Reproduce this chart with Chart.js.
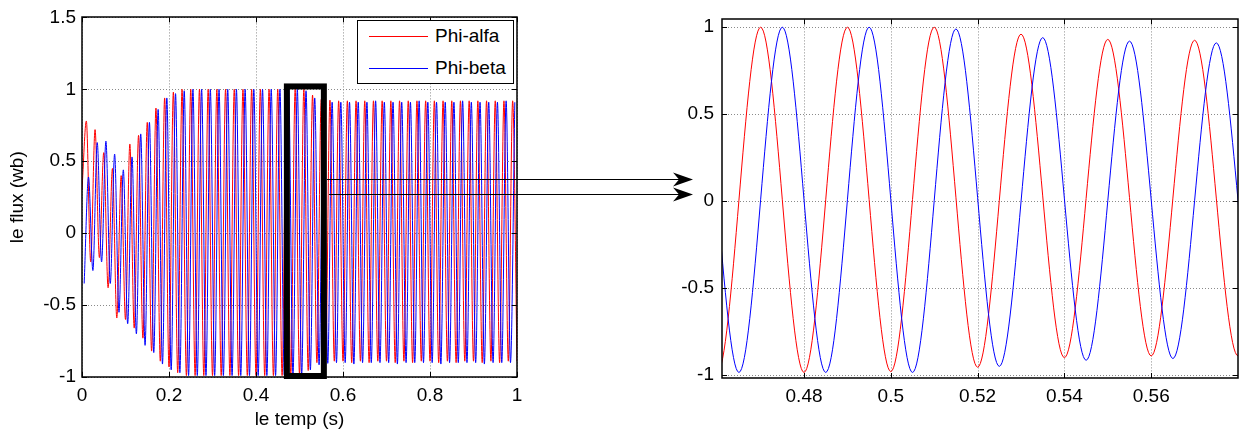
<!DOCTYPE html>
<html>
<head>
<meta charset="utf-8">
<script src="https://cdn.jsdelivr.net/npm/chart.js@4.4.0/dist/chart.umd.min.js"></script>
<style>
html, body { margin: 0; padding: 0; background: #fff; }
#wrap { position: relative; width: 1248px; height: 434px; overflow: hidden; }
#leftChart { position: absolute; left: 0; top: 0; }
#rightChart { position: absolute; left: 660px; top: 0; }
#legend { position: absolute; left: 357px; top: 20px; width: 155px; height: 62px; border: 1px solid #000; background: #fff; font: 19px 'Liberation Sans', Arial, sans-serif; color: #000; }
.legend-row { position: absolute; left: 0; height: 22px; line-height: 22px; }
.legend-row .swatch { position: absolute; left: 11px; top: 11px; width: 59px; height: 1px; }
.legend-row .txt { position: absolute; left: 77px; top: 0; white-space: nowrap; }
</style>
</head>
<body>
<div id="wrap">
    <canvas id="leftChart" width="700" height="434"></canvas>
    <canvas id="rightChart" width="588" height="434"></canvas>
    <div id="legend"></div>
</div>
<script>
// flux extrema, one every half period (10 ms)
var STEP = 0.01;
var redStart = 0;
var blueStart = 0.005;

var redValues = [
    0.30, 0.78, -0.20, 0.72, -0.17, 0.56, -0.38, 0.45, -0.59, 0.40,
    -0.60, 0.62, -0.66, 0.68, -0.73, 0.77, -0.82, 0.87, -0.89, 0.94,
    -0.93, 0.98, -0.97, 1.00, -0.99, 1.00, -0.99, 1.00, -0.99, 1.00,
    -0.99, 1.00, -0.99, 1.00, -0.99, 1.00, -0.99, 1.00, -0.99, 1.00,
    -0.99, 1.00, -0.99, 1.00, -0.99, 1.00, -0.99, 1.00, -0.985, 1.00,
    -0.98, 1.00, -0.955, 0.96, -0.90, 0.93, -0.89, 0.925, -0.89, 0.92,
    -0.89, 0.92, -0.90, 0.92, -0.89, 0.92, -0.90, 0.92, -0.89, 0.92,
    -0.89, 0.92, -0.90, 0.92, -0.89, 0.92, -0.90, 0.92, -0.89, 0.92,
    -0.89, 0.92, -0.90, 0.92, -0.89, 0.92, -0.90, 0.92, -0.89, 0.92,
    -0.89, 0.92, -0.90, 0.92, -0.89, 0.92, -0.90, 0.92, -0.89, 0.92,
    -0.89
];

var blueValues = [
    -0.35, 0.39, -0.26, 0.63, -0.20, 0.64, -0.35, 0.55, -0.55, 0.44,
    -0.63, 0.53, -0.70, 0.69, -0.78, 0.77, -0.83, 0.86, -0.91, 0.94,
    -0.95, 0.97, -0.97, 0.99, -0.99, 1.00, -0.99, 1.00, -0.99, 1.00,
    -0.99, 1.00, -0.99, 1.00, -0.99, 1.00, -0.99, 1.00, -0.99, 1.00,
    -0.99, 1.00, -0.99, 1.00, -0.99, 1.00, -0.985, 1.00, -0.985, 1.00,
    -0.985, 0.99, -0.95, 0.94, -0.915, 0.92, -0.905, 0.91, -0.90, 0.91,
    -0.90, 0.91, -0.91, 0.91, -0.90, 0.91, -0.90, 0.92, -0.90, 0.91,
    -0.90, 0.91, -0.91, 0.91, -0.90, 0.91, -0.90, 0.92, -0.90, 0.91,
    -0.90, 0.91, -0.91, 0.91, -0.90, 0.91, -0.90, 0.92, -0.90, 0.91,
    -0.90, 0.91, -0.91, 0.91, -0.90, 0.91, -0.90, 0.92, -0.90, 0.91
];

var seriesNames = ['Phi-alfa', 'Phi-beta'];
var seriesColors = ['#ff0000', '#0000ff'];

var leftXTicks = [0, 0.2, 0.4, 0.6, 0.8, 1];
var leftYTicks = [-1, -0.5, 0, 0.5, 1, 1.5];
var rightXTicks = [0.48, 0.5, 0.52, 0.54, 0.56];
var rightYTicks = [-1, -0.5, 0, 0.5, 1];

var zoomRange = [0.4611, 0.5800];
var zoomYRange = [-1.017, 1.045];
var zoomBox = { x0: 0.471, x1: 0.556, y0: -0.993, y1: 1.02 };
var arrowLevels = [0.38, 0.27];

var FONT = { family: "'Liberation Sans', Arial, sans-serif", size: 19 };
var GRID = { color: '#8a8a8a', lineWidth: 1, drawTicks: false };

function toPoints(start, values) {
    return values.map(function (v, i) {
        return { x: +(start + i * STEP).toFixed(3), y: v };
    });
}

function fixedTicks(list) {
    return function (scale) {
        scale.ticks = list.map(function (v) { return { value: v }; });
    };
}

function makeDatasets() {
    return [
        { label: seriesNames[0], data: toPoints(redStart, redValues), borderColor: seriesColors[0], order: 1 },
        { label: seriesNames[1], data: toPoints(blueStart, blueValues), borderColor: seriesColors[1], order: 0 }
    ].map(function (ds) {
        ds.borderWidth = 1;
        ds.pointRadius = 0;
        ds.fill = false;
        ds.cubicInterpolationMode = 'monotone';
        return ds;
    });
}

// matlab style box with inward ticks
var framePlugin = {
    id: 'frame',
    beforeDatasetsDraw: function (chart) {
        // dotted grid
        var ctx = chart.ctx, a = chart.chartArea;
        var xs = chart.scales.x, ys = chart.scales.y;
        ctx.save();
        ctx.strokeStyle = GRID.color;
        ctx.lineWidth = 1;
        ctx.setLineDash([1, 2]);
        xs.ticks.forEach(function (t) {
            var px = Math.round(xs.getPixelForValue(t.value)) + 0.5;
            ctx.beginPath(); ctx.moveTo(px, a.top); ctx.lineTo(px, a.bottom); ctx.stroke();
        });
        ys.ticks.forEach(function (t) {
            var py = Math.round(ys.getPixelForValue(t.value)) + 0.5;
            ctx.beginPath(); ctx.moveTo(a.left, py); ctx.lineTo(a.right, py); ctx.stroke();
        });
        ctx.restore();
    },
    afterDatasetsDraw: function (chart) {
        var ctx = chart.ctx, a = chart.chartArea;
        var xs = chart.scales.x, ys = chart.scales.y;
        var len = 5;
        ctx.save();
        ctx.strokeStyle = '#000';
        ctx.lineWidth = 1;
        xs.ticks.forEach(function (t) {
            var px = Math.round(xs.getPixelForValue(t.value)) + 0.5;
            ctx.beginPath();
            ctx.moveTo(px, a.bottom); ctx.lineTo(px, a.bottom - len);
            ctx.moveTo(px, a.top); ctx.lineTo(px, a.top + len);
            ctx.stroke();
        });
        ys.ticks.forEach(function (t) {
            var py = Math.round(ys.getPixelForValue(t.value)) + 0.5;
            ctx.beginPath();
            ctx.moveTo(a.left, py); ctx.lineTo(a.left + len, py);
            ctx.moveTo(a.right, py); ctx.lineTo(a.right - len, py);
            ctx.stroke();
        });
        ctx.lineWidth = 1.5;
        ctx.strokeRect(Math.round(a.left), Math.round(a.top), Math.round(a.right - a.left), Math.round(a.bottom - a.top));
        ctx.restore();
    }
};

// zoom window rectangle and the two arrows to the right plot
var zoomPlugin = {
    id: 'zoomMark',
    afterDraw: function (chart) {
        var ctx = chart.ctx, a = chart.chartArea;
        var xs = chart.scales.x, ys = chart.scales.y;
        var x0 = xs.getPixelForValue(zoomBox.x0), x1 = xs.getPixelForValue(zoomBox.x1);
        var y0 = ys.getPixelForValue(zoomBox.y1), y1 = ys.getPixelForValue(zoomBox.y0);
        ctx.save();
        ctx.strokeStyle = '#000';
        ctx.lineWidth = 6;
        ctx.strokeRect(x0, y0, x1 - x0, y1 - y0);

        var endX = a.right + 176;
        ctx.lineWidth = 1;
        ctx.fillStyle = '#000';
        arrowLevels.forEach(function (lv, i) {
            var py = Math.round(ys.getPixelForValue(lv)) + 0.5;
            var sx = x1 + 3 + i * 2;
            ctx.beginPath();
            ctx.moveTo(sx, py);
            ctx.lineTo(endX - 10, py);
            ctx.stroke();
            ctx.beginPath();
            ctx.moveTo(endX, py);
            ctx.lineTo(endX - 20, py - 7);
            ctx.lineTo(endX - 14, py);
            ctx.lineTo(endX - 20, py + 7);
            ctx.closePath();
            ctx.fill();
        });
        ctx.restore();
    }
};

function buildOptions(cfg) {
    return {
        responsive: false,
        animation: false,
        devicePixelRatio: 1,
        layout: { padding: cfg.padding },
        plugins: { legend: { display: false }, tooltip: { enabled: false } },
        scales: {
            x: {
                type: 'linear',
                min: cfg.xMin, max: cfg.xMax,
                afterBuildTicks: fixedTicks(cfg.xTicks),
                afterFit: function (s) { s.height = cfg.xHeight; },
                grid: { display: false, drawTicks: false },
                border: { display: false },
                ticks: { color: '#000', font: FONT, padding: 7, maxRotation: 0, autoSkip: false,
                         callback: function (v) { return String(v); } },
                title: { display: !!cfg.xTitle, text: cfg.xTitle || '', color: '#000', font: FONT, padding: { top: 0, bottom: 3 } }
            },
            y: {
                type: 'linear',
                min: cfg.yMin, max: cfg.yMax,
                afterBuildTicks: fixedTicks(cfg.yTicks),
                afterFit: function (s) { s.width = cfg.yWidth; },
                grid: { display: false, drawTicks: false },
                border: { display: false },
                ticks: { color: '#000', font: FONT, padding: cfg.yPad, autoSkip: false,
                         callback: function (v) { return String(v); } },
                title: { display: !!cfg.yTitle, text: cfg.yTitle || '', color: '#000', font: FONT, padding: { top: 6, bottom: 0 } }
            }
        }
    };
}

var leftChart = new Chart(document.getElementById('leftChart'), {
    type: 'line',
    data: { datasets: makeDatasets() },
    options: buildOptions({
        padding: { left: 0, top: 17, right: 183, bottom: 0 },
        xMin: 0, xMax: 1, yMin: -1, yMax: 1.5,
        xTicks: leftXTicks, yTicks: leftYTicks,
        xHeight: 57, yWidth: 82, yPad: 6,
        xTitle: 'le temp (s)', yTitle: 'le flux (wb)'
    }),
    plugins: [framePlugin, zoomPlugin]
});

var rightChart = new Chart(document.getElementById('rightChart'), {
    type: 'line',
    data: { datasets: makeDatasets() },
    options: buildOptions({
        padding: { left: 0, top: 16, right: 10, bottom: 0 },
        xMin: zoomRange[0], xMax: zoomRange[1], yMin: zoomYRange[0], yMax: zoomYRange[1],
        xTicks: rightXTicks, yTicks: rightYTicks,
        xHeight: 56, yWidth: 62, yPad: 8
    }),
    plugins: [framePlugin]
});

// legend box drawn as html, inside the left plot
var legendEl = document.getElementById('legend');
leftChart.data.datasets.forEach(function (ds, i) {
    var row = document.createElement('div');
    row.className = 'legend-row';
    row.style.top = (4 + i * 32) + 'px';
    row.innerHTML = '<span class="swatch" style="background:' + ds.borderColor + '"></span>' +
        '<span class="txt">' + ds.label + '</span>';
    row.style.width = '100%';
    legendEl.appendChild(row);
});
</script>
</body>
</html>
